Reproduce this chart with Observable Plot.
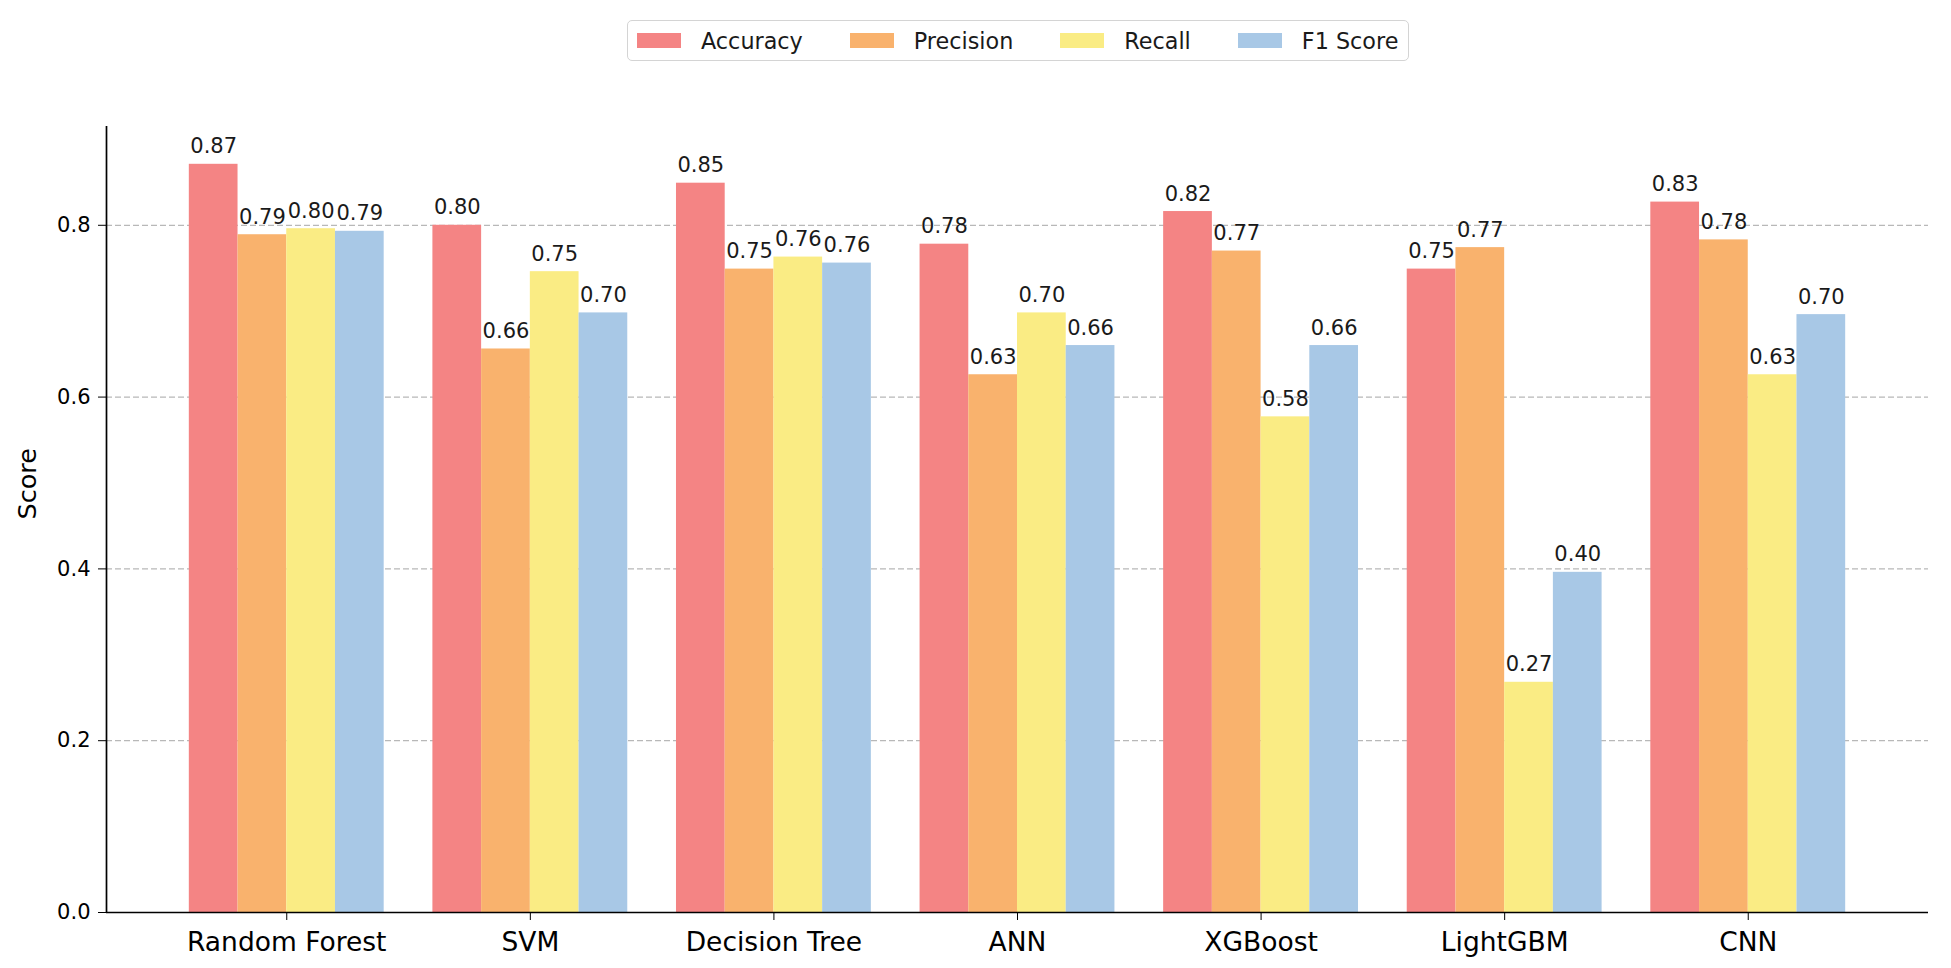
<!DOCTYPE html>
<html><head><meta charset="utf-8">
<script src="https://cdn.jsdelivr.net/npm/d3@7"></script>
<script src="https://cdn.jsdelivr.net/npm/@observablehq/plot@0.6"></script>
<style>
body{margin:0;background:#fff;font-family:"DejaVu Sans",sans-serif;}
#wrap{position:relative;width:1951px;height:968px;overflow:hidden;}
#legend{position:absolute;left:627px;top:20px;height:41px;box-sizing:border-box;border:1.5px solid #d4d4d4;border-radius:5px;display:flex;align-items:center;padding:0 10px 0 9px;font-size:22.3px;color:#1a1a1a;background:#fff;z-index:2;white-space:nowrap;}
.item{display:flex;align-items:center;margin-right:47px;flex-shrink:0}
.item:last-child{margin-right:0}
.sw{width:44px;height:15px;margin-right:20px;flex-shrink:0}
</style></head>
<body><div id="wrap"><div id="legend"></div><div id="chart"></div></div>
<script>
const models = ["Random Forest","SVM","Decision Tree","ANN","XGBoost","LightGBM","CNN"];
const metrics = ["Accuracy","Precision","Recall","F1 Score"];
const colors = ["#f48484","#f9b26d","#faec84","#a8c8e6"];
const accuracy  = [0.871,0.800,0.849,0.778,0.816,0.749,0.827];
const precision = [0.789,0.656,0.749,0.626,0.770,0.774,0.783];
const recall    = [0.796,0.746,0.763,0.698,0.577,0.268,0.626];
const f1        = [0.793,0.698,0.756,0.660,0.660,0.396,0.696];
const yTicks = [0,0.2,0.4,0.6,0.8];
const barWidth = 0.2;

const series = [accuracy, precision, recall, f1];
const rows = [];
models.forEach((m, i) => {
  metrics.forEach((k, j) => {
    const x1 = i - 2 * barWidth + j * barWidth;
    rows.push({model: m, metric: k, value: series[j][i], x1, x2: x1 + barWidth});
  });
});
const xDomain = [-2 * barWidth - 0.34, models.length - 1 + 2 * barWidth + 0.34];

const legend = document.getElementById("legend");
metrics.forEach((k, j) => {
  const it = document.createElement("div"); it.className = "item";
  const sw = document.createElement("div"); sw.className = "sw"; sw.style.background = colors[j];
  const tx = document.createElement("span"); tx.textContent = k;
  it.appendChild(sw); it.appendChild(tx); legend.appendChild(it);
});

const chart = Plot.plot({
  width: 1951, height: 968,
  marginTop: 126, marginBottom: 56, marginLeft: 106, marginRight: 23,
  style: {fontFamily: "DejaVu Sans", fontSize: "21px", color: "#000", background: "#fff"},
  x: {domain: xDomain},
  y: {domain: [0, 0.915]},
  color: {domain: metrics, range: colors},
  marks: [
    Plot.ruleY(yTicks.filter(v => v > 0), {stroke: "#b8b8b8", strokeDasharray: "6,3", strokeWidth: 1.3}),
    Plot.rectY(rows, {x1: "x1", x2: "x2", y: "value", fill: "metric"}),
    Plot.text(rows, {x: d => (d.x1 + d.x2) / 2, y: "value", text: d => d.value.toFixed(2), lineAnchor: "bottom", dy: -11, fontSize: 21, fill: "#1a1a1a"}),
    Plot.ruleX([xDomain[0]], {stroke: "#000", strokeWidth: 1.7}),
    Plot.ruleY([0], {stroke: "#000", strokeWidth: 1.7}),
    Plot.axisY({ticks: yTicks, tickFormat: d => d.toFixed(1), tickSize: 8, tickPadding: 8, fontSize: 21, label: null}),
    Plot.axisX({ticks: d3.range(models.length), tickFormat: i => models[i], tickSize: 8, tickPadding: 12, fontSize: 26.5, label: null}),
    Plot.text(["Score"], {frameAnchor: "left", rotate: -90, dx: -79, fontSize: 25.5, text: d => d, fill: "#000"})
  ]
});
document.getElementById("chart").appendChild(chart);
</script>
</body></html>
